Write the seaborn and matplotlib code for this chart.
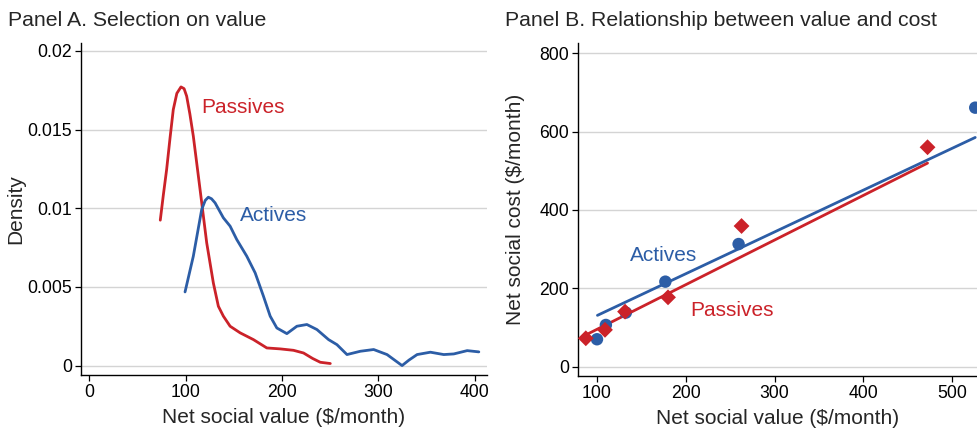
import matplotlib
matplotlib.use("Agg")
import matplotlib.pyplot as plt
import seaborn as sns

# Panel A: kernel density curves
passive_x = [73.8, 77.0, 80.4, 84.0, 87.3, 91.0, 95.3, 98.5, 101.2, 104.5, 108.1, 115.1,
             122.0, 128.9, 134.1, 139.3, 146.3, 156.7, 170.5, 184.4, 198.3, 212.1,
             222.5, 232.0, 239.9, 250.3]
passive_y = [0.00924, 0.01085, 0.01246, 0.01450, 0.01627, 0.01730, 0.01771, 0.01760,
             0.01712, 0.01600, 0.01458, 0.01119, 0.0078, 0.00525, 0.00377, 0.00314,
             0.0025, 0.00208, 0.00165, 0.00112, 0.00106, 0.00097, 0.0008, 0.00045,
             0.00021, 0.00013]
active_x = [99.5, 108.1, 116.8, 120.5, 123.7, 127.0, 130.7, 139.3, 146.3, 153.2, 163.6,
            172.3, 180.9, 187.9, 194.8, 205.2, 215.6, 226.0, 236.4, 248.5, 257.2, 267.6,
            281.5, 295.3, 309.2, 317.0, 324.8, 332.0, 340.4, 354.2, 368.1, 378.5, 392.4,
            404.5]
active_y = [0.00468, 0.00695, 0.00992, 0.01050, 0.0107, 0.01060, 0.01034, 0.00939,
            0.00886, 0.00801, 0.00695, 0.00589, 0.00441, 0.00314, 0.00239, 0.00203,
            0.0025, 0.00261, 0.00229, 0.00165, 0.00133, 0.0007, 0.00091, 0.00102,
            0.0007, 0.00035, 0.0, 0.00035, 0.0007, 0.00085, 0.0007, 0.00074, 0.00095,
            0.00087]

# Panel B: binned points and fitted lines
act_val = [100, 110, 132.5, 177, 259.5, 526]
act_cost = [70, 106.5, 138, 217, 313, 661]
pas_val = [87.4, 109, 131.6, 180, 262.8, 472.3]
pas_cost = [72.5, 94, 140.5, 177, 359, 560]
act_fit_x = [100.5, 526]
act_fit_y = [131, 585]
pas_fit_x = [87.4, 472.3]
pas_fit_y = [81, 519.5]

RED = "#cb2229"
BLUE = "#2c5da6"

sns.set_theme(style="white")
plt.rcParams["font.family"] = ["Liberation Sans", "DejaVu Sans"]
plt.rcParams["axes.edgecolor"] = "black"
plt.rcParams["xtick.bottom"] = True
plt.rcParams["ytick.left"] = True

fig = plt.figure(figsize=(9.77, 4.28), dpi=100)
ax1 = fig.add_axes([0.0829, 0.1238, 0.4156, 0.7757])
ax2 = fig.add_axes([0.5916, 0.1222, 0.4084, 0.7773])


def style_axis(ax):
    for side in ["top", "right"]:
        ax.spines[side].set_visible(False)
    ax.spines["left"].set_linewidth(1.0)
    ax.spines["bottom"].set_linewidth(1.0)
    ax.yaxis.grid(True, color="#d4d4d4", lw=1.0)
    ax.set_axisbelow(True)
    ax.tick_params(axis="both", direction="out", length=4, width=0.9,
                   labelsize=12.7, colors="black", pad=2.5)


# Panel A
sns.lineplot(x=passive_x, y=passive_y, color=RED, lw=2, ax=ax1, sort=False)
sns.lineplot(x=active_x, y=active_y, color=BLUE, lw=2, ax=ax1, sort=False)
ax1.set_xlim(-8.5, 413)
ax1.set_ylim(-0.0006, 0.0205)
ax1.set_xticks([0, 100, 200, 300, 400])
ax1.set_yticks([0, 0.005, 0.01, 0.015, 0.02])
ax1.set_yticklabels(["0", "0.005", "0.01", "0.015", "0.02"])
ax1.set_xlabel("Net social value ($/month)", fontsize=15, labelpad=5)
ax1.set_ylabel("Density", fontsize=15, labelpad=1.5)
ax1.text(116, 0.01641, "Passives", color=RED, fontsize=15, va="center")
ax1.text(156, 0.00955, "Actives", color=BLUE, fontsize=15, va="center")
style_axis(ax1)

# Panel B
sns.lineplot(x=act_fit_x, y=act_fit_y, color=BLUE, lw=2, ax=ax2)
sns.lineplot(x=pas_fit_x, y=pas_fit_y, color=RED, lw=2, ax=ax2)
sns.scatterplot(x=act_val, y=act_cost, color=BLUE, marker="o", s=80,
                edgecolor="none", ax=ax2, zorder=3)
sns.scatterplot(x=pas_val, y=pas_cost, color=RED, marker="D", s=65,
                edgecolor="none", ax=ax2, zorder=4)
ax2.set_xlim(78.6, 528)
ax2.set_ylim(-23, 826)
ax2.set_xticks([100, 200, 300, 400, 500])
ax2.set_yticks([0, 200, 400, 600, 800])
ax2.set_xlabel("Net social value ($/month)", fontsize=15, labelpad=5)
ax2.set_ylabel("Net social cost ($/month)", fontsize=15, labelpad=10)
ax2.text(137, 285, "Actives", color=BLUE, fontsize=15, va="center")
ax2.text(205, 144, "Passives", color=RED, fontsize=15, va="center")
style_axis(ax2)

fig.text(0.008, 0.953, "Panel A. Selection on value", fontsize=15.3, va="center", ha="left")
fig.text(0.517, 0.953, "Panel B. Relationship between value and cost", fontsize=15.3,
         va="center", ha="left")

fig.savefig("out.png", dpi=100)
